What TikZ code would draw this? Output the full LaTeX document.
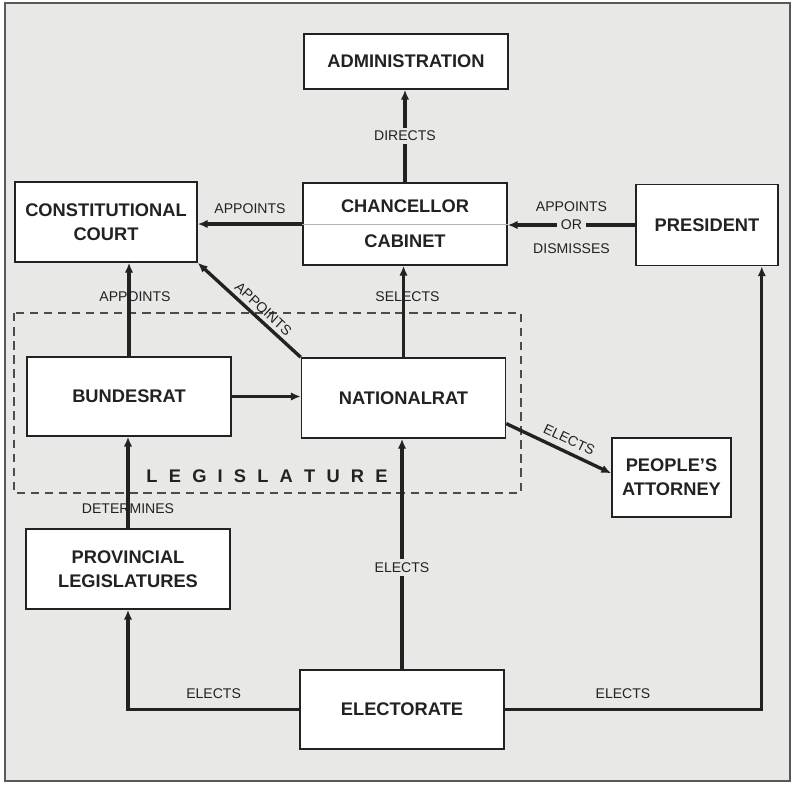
\documentclass[tikz,border=0pt]{standalone}
\usepackage{fontspec}
\setmainfont{Liberation Sans}
\usetikzlibrary{arrows.meta}
\definecolor{paper}{HTML}{E8E8E6}
\definecolor{ink}{HTML}{222222}
\begin{document}
\begin{tikzpicture}[x=0.025cm, y=-0.025cm,
        box/.style={draw=ink, line width=1.1pt, fill=white, text=ink, inner sep=1pt,
            align=center, font=\fontsize{13}{15}\selectfont\bfseries},
        lbl/.style={text=ink, inner sep=1pt, font=\fontsize{10}{12}\selectfont},
        gap/.style={lbl, fill=paper, inner sep=2.5pt},
        arr/.style={draw=ink, line width=2.4pt, -{Latex[length=7pt,width=6pt]}},
        rarr/.style={arr, {Latex[length=7pt,width=6pt]}-}]
        \useasboundingbox (0,0) rectangle (802,785);
        \draw[fill=paper, draw=black!65, line width=1.2pt] (5,3) rectangle (790,781);
        \draw[black!70, line width=1.2pt, dash pattern=on 6pt off 4pt] (14,313) rectangle (521,493);
        \node[lbl, font=\fontsize{13}{15}\selectfont\bfseries] (leg) at (267,476) {\spaceskip=0.28cm L E G I S L A T U R E};

        \node[box, minimum width=5.1cm, minimum height=1.375cm] (adm) at (406,61.5) {ADMINISTRATION};
        \node[box, minimum width=5.1cm, minimum height=2.05cm] (cab) at (405,224) {CHANCELLOR\\[10pt]CABINET};
        \node[box, minimum width=4.55cm, minimum height=2cm] (court) at (106,222) {CONSTITUTIONAL\\[2pt]COURT};
        \node[box, minimum width=3.55cm, minimum height=2.025cm] (pres) at (707,225) {PRESIDENT};
        \node[box, minimum width=5.1cm, minimum height=1.975cm] (bund) at (129,396.5) {BUNDESRAT};
        \node[box, minimum width=5.1cm, minimum height=2cm] (nat) at (403.5,398) {NATIONALRAT};
        \node[box, minimum width=2.975cm, minimum height=1.975cm] (att) at (671.5,477.5) {PEOPLE'S\\[2pt]ATTORNEY};
        \node[box, minimum width=5.1cm, minimum height=2cm] (prov) at (128,569) {PROVINCIAL\\[2pt]LEGISLATURES};
        \node[box, minimum width=5.1cm, minimum height=1.975cm] (elec) at (402,709.5) {ELECTORATE};
        \draw[black!30, line width=0.6pt] (cab.west) -- (cab.east);

        \draw[arr] (cab.north) -- node[gap] {DIRECTS} (cab.north |- adm.south);
        \draw[arr] (cab.west) -- node[lbl, above=5.5pt] {APPOINTS} (cab.west -| court.east);
        \draw[arr] (pres.west) -- node[lbl, above=7.5pt] {APPOINTS} node[gap] {OR}
            node[lbl, below=11pt] {DISMISSES} (pres.west -| cab.east);
        \draw[arr] (bund.north) -- node[lbl, pos=0.64, xshift=0.15cm] {APPOINTS} (bund.north |- court.south);
        \draw[rarr] (court.south east) -- node[lbl, pos=0.57, sloped, above=1.6pt] {APPOINTS} (nat.north west);
        \draw[arr] (nat.north) -- node[lbl, pos=0.66, xshift=0.1cm] {SELECTS} (nat.north |- cab.south);
        \draw[arr] (bund.east) -- (bund.east -| nat.west);
        \draw[arr] (nat.-14) -- node[lbl, pos=0.55, sloped, above=3pt] {ELECTS} (att.176);
        \draw[arr] (prov.north) -- node[lbl, pos=0.215] {DETERMINES} (prov.north |- bund.south);
        \draw[arr] (elec.north) -- node[gap, pos=0.44] {ELECTS} (elec.north |- nat.south);
        \draw[arr] (elec.west) -| node[lbl, pos=0.25, above=5.5pt] {ELECTS} (prov.south);
        \draw[arr] (elec.east) -| node[lbl, pos=0.23, above=5.5pt] {ELECTS} (pres.-37);
    \end{tikzpicture}
\end{document}
